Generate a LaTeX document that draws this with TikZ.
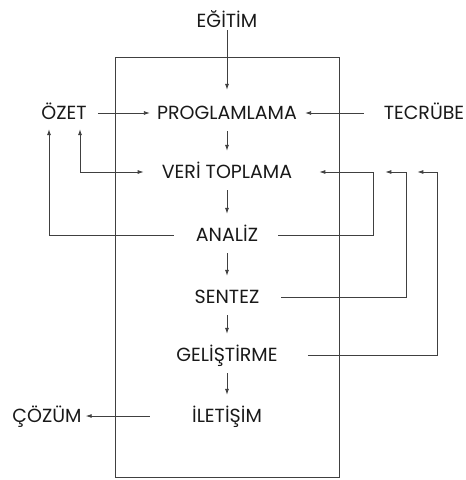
\documentclass[tikz,border=0pt]{standalone}
\usepackage{fontspec}
\setmainfont{Poppins}
\usepackage{tikz}
\usetikzlibrary{positioning,arrows.meta}

\begin{document}
\begin{tikzpicture}[>={Latex[length=6pt,width=4pt]},x=1pt,y=1pt,on grid,
  lbl/.style={inner sep=0pt,text height=12pt,text depth=0pt,
    font=\fontsize{19}{19}\selectfont,text=black!90},
  link/.style={draw=black!75,line width=0.8pt},
  down/.style={link,->,shorten <=12pt,shorten >=15pt}]
\useasboundingbox (0,0) rectangle (466,-480);
% central column
\node[lbl] (egitim) at (227,-21) {EĞİTİM};
\node[lbl,below=92pt of egitim] (prog) {PROGLAMLAMA};
\node[lbl,below=59pt of prog] (veri) {VERİ TOPLAMA};
\node[lbl,below=63pt of veri] (analiz) {ANALİZ};
\node[lbl,below=62pt of analiz] (sentez) {SENTEZ};
\node[lbl,below=58pt of sentez] (gelis) {GELİŞTİRME};
\node[lbl,below=61pt of gelis] (iletisim) {İLETİŞİM};
% side nodes
\node[lbl,left=163pt of prog] (ozet) {ÖZET};
\node[lbl,right=197pt of prog] (tecrube) {TECRÜBE};
\node[lbl,left=180pt of iletisim] (cozum) {ÇÖZÜM};
% frame
\draw[link] (115,-57) rectangle (339,-477);
\draw[link,->,shorten <=3pt,shorten >=17pt] (egitim) -- (prog);
\draw[down] (prog) -- (veri);
\draw[down] (veri) -- (analiz);
\draw[down] (analiz) -- (sentez);
\draw[down] (sentez) -- (gelis);
\draw[down] (gelis) -- (iletisim);
\draw[link,->,shorten <=11pt,shorten >=7pt] (ozet) -- (prog);
\draw[link,->,shorten <=20pt,shorten >=8pt] (tecrube) -- (prog);
\draw[link,->,shorten <=42pt,shorten >=4pt] (iletisim) -- (cozum);
% feedback to OZET
\draw[link,->,shorten <=22pt,shorten >=10pt] (analiz.west) -| ([xshift=-15pt]ozet.south);
\draw[link,<->,shorten <=10pt,shorten >=18pt] ([xshift=16pt]ozet.south) |- (veri.west);
% feedback to VERI TOPLAMA
\draw[link,->,shorten <=20pt,shorten >=27pt] (analiz.east) -- ++(115,0) |- (veri.east);
\draw[link,->,shorten <=22pt,shorten >=93pt] (sentez.east) -- ++(147,0) |- (veri.east);
\draw[link,->,shorten <=30pt,shorten >=125pt] (gelis.east) -- ++(160,0) |- (veri.east);
\end{tikzpicture}
\end{document}
